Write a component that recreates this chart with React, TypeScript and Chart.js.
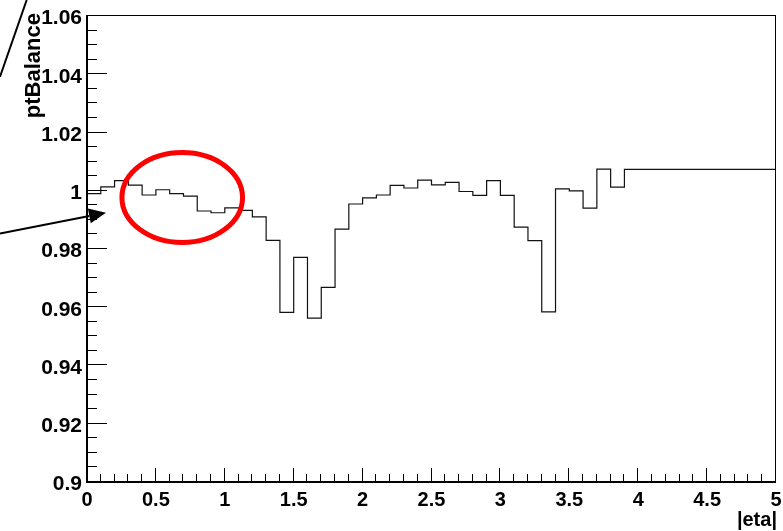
import React, { useEffect, useRef } from 'react';
import { Chart, registerables } from 'chart.js';

Chart.register(...registerables);

// ---- data ----
const etaBinWidth = 0.1;
const ptBalance = [
  0.9987, 1.001, 1.0031, 1.0016, 0.9982, 1.0, 0.9987, 0.9978, 0.9927, 0.9921,
  0.9938, 0.9929, 0.9907, 0.9826, 0.9579, 0.9768, 0.9559, 0.9665, 0.9865, 0.9951,
  0.9972, 0.9982, 1.0015, 1.0006, 1.0033, 1.0017, 1.0025, 0.9994, 0.9981, 1.0031,
  0.9981, 0.9872, 0.9825, 0.9581, 1.0003, 0.9996, 0.9937, 1.0071, 1.0009, 1.007,
  1.007, 1.007, 1.007, 1.007, 1.007, 1.007, 1.007, 1.007, 1.007, 1.007,
];
const xTickLabels = ['0', '0.5', '1', '1.5', '2', '2.5', '3', '3.5', '4', '4.5', '5'];
const yTickLabels = ['0.9', '0.92', '0.94', '0.96', '0.98', '1', '1.02', '1.04', '1.06'];
const xTitle = '|eta|';
const yTitle = 'ptBalance';

// annotation geometry in data coordinates
const circleMark = { cx: 0.691, cy: 0.99734, rx: 0.4376, ry: 0.01545 };
const arrowMark = { x0: -0.6313, y0: 0.98498, x1: 0.1379, y1: 0.99212 };
const slashMark = { x0: -0.6313, y0: 1.03882, x1: -0.4376, y1: 1.06515 };

const FONT = '"Liberation Sans", Arial, Helvetica, sans-serif';

const rootDecor = {
  id: 'rootDecor',
  afterDraw(chart: any) {
    const { ctx, chartArea: a, scales } = chart;
    const x = scales.x;
    const y = scales.y;
    ctx.save();
    ctx.fillStyle = '#000';
    ctx.strokeStyle = '#000';
    // frame
    ctx.fillRect(a.left - 1, a.top, 2, a.bottom - a.top + 2);
    ctx.fillRect(a.left - 1, a.bottom, a.right - a.left + 1, 2);
    ctx.fillRect(a.left, a.top, a.right - a.left, 1);
    ctx.fillRect(a.right - 1, a.top, 1, a.bottom - a.top);
    // y ticks (inside)
    ctx.lineWidth = 1;
    ctx.beginPath();
    for (let k = 0; k <= 32; k++) {
      const v = 0.9 + k * 0.005;
      const py = Math.round(y.getPixelForValue(v)) + 0.5;
      const len = k % 4 === 0 ? 20 : 10;
      ctx.moveTo(a.left, py);
      ctx.lineTo(a.left + len, py);
    }
    for (let k = 0; k <= 50; k++) {
      const v = k * 0.1;
      const px = Math.round(x.getPixelForValue(v)) - 0.5;
      const len = k % 5 === 0 ? 13 : 7;
      ctx.moveTo(px, a.bottom);
      ctx.lineTo(px, a.bottom - len);
    }
    ctx.stroke();

    // titles
    ctx.font = `bold 20px ${FONT}`;
    ctx.textAlign = 'right';
    ctx.textBaseline = 'alphabetic';
    ctx.fillText(xTitle, 777, 526);
    ctx.save();
    ctx.translate(40, 13);
    ctx.rotate(-Math.PI / 2);
    ctx.font = `bold 22px ${FONT}`;
    ctx.textAlign = 'right';
    ctx.fillText(yTitle, 0, 0);
    ctx.restore();

    // red ellipse
    const ecx = x.getPixelForValue(circleMark.cx);
    const ecy = y.getPixelForValue(circleMark.cy);
    const erx = Math.abs(x.getPixelForValue(circleMark.cx + circleMark.rx) - ecx);
    const ery = Math.abs(y.getPixelForValue(circleMark.cy + circleMark.ry) - ecy);
    ctx.beginPath();
    ctx.ellipse(ecx, ecy, erx, ery, 0, 0, Math.PI * 2);
    ctx.strokeStyle = '#ff0000';
    ctx.lineWidth = 5;
    ctx.stroke();

    // arrow
    const ax0 = x.getPixelForValue(arrowMark.x0);
    const ay0 = y.getPixelForValue(arrowMark.y0);
    const ax1 = x.getPixelForValue(arrowMark.x1);
    const ay1 = y.getPixelForValue(arrowMark.y1);
    const ang = Math.atan2(ay1 - ay0, ax1 - ax0);
    const headLen = 17;
    const headHalf = 7.5;
    const bx = ax1 - headLen * Math.cos(ang);
    const by = ay1 - headLen * Math.sin(ang);
    ctx.strokeStyle = '#000';
    ctx.lineWidth = 2;
    ctx.beginPath();
    ctx.moveTo(ax0, ay0);
    ctx.lineTo(bx, by);
    ctx.stroke();
    ctx.beginPath();
    ctx.moveTo(ax1, ay1);
    ctx.lineTo(bx - headHalf * Math.sin(ang), by + headHalf * Math.cos(ang));
    ctx.lineTo(bx + headHalf * Math.sin(ang), by - headHalf * Math.cos(ang));
    ctx.closePath();
    ctx.fillStyle = '#000';
    ctx.fill();

    // slash line top-left
    const sx0 = x.getPixelForValue(slashMark.x0);
    const sy0 = y.getPixelForValue(slashMark.y0);
    const sx1 = x.getPixelForValue(slashMark.x1);
    const sy1 = y.getPixelForValue(slashMark.y1);
    ctx.beginPath();
    ctx.moveTo(sx0, sy0);
    ctx.lineTo(sx1, sy1);
    ctx.lineWidth = 2;
    ctx.stroke();
    ctx.restore();
  },
};

export default function App() {
  const ref = useRef<HTMLCanvasElement>(null);
  useEffect(() => {
    if (!ref.current) return;
    const points = ptBalance.map((v, i) => ({ x: i * etaBinWidth, y: v }));
    points.push({ x: ptBalance.length * etaBinWidth, y: ptBalance[ptBalance.length - 1] });
    const chart = new Chart(ref.current, {
      type: 'line',
      data: {
        datasets: [
          {
            data: points,
            stepped: 'before',
            borderColor: '#111',
            borderWidth: 1.2,
            pointRadius: 0,
            fill: false,
          },
        ],
      },
      options: {
        animation: false,
        responsive: false,
        devicePixelRatio: 1,
        layout: { padding: { top: 15, right: 7, left: 0, bottom: 0 } },
        plugins: { legend: { display: false }, tooltip: { enabled: false } },
        scales: {
          x: {
            type: 'linear',
            min: 0,
            max: 5,
            grid: { display: false, drawTicks: false },
            border: { display: false },
            afterFit: (s: any) => {
              s.height = 50;
              s.paddingLeft = 0;
              s.paddingRight = 0;
            },
            ticks: {
              stepSize: 0.5,
              padding: 7,
              maxRotation: 0,
              autoSkip: false,
              color: '#000',
              font: { family: FONT, size: 20, weight: 'bold' },
              callback: (_v: any, i: number) => xTickLabels[i],
            },
          },
          y: {
            type: 'linear',
            min: 0.9,
            max: 1.06,
            grid: { display: false, drawTicks: false },
            border: { display: false },
            afterFit: (s: any) => {
              s.width = 87;
              s.paddingTop = 0;
              s.paddingBottom = 0;
            },
            ticks: {
              stepSize: 0.02,
              padding: 5,
              labelOffset: 3.5,
              autoSkip: false,
              color: '#000',
              font: { family: FONT, size: 21, weight: 'bold' },
              callback: (_v: any, i: number) => yTickLabels[i],
            },
          },
        },
      },
      plugins: [rootDecor],
    });
    return () => chart.destroy();
  }, []);
  return (
    <div style={{ position: 'absolute', left: 0, top: 0, width: 783, height: 531, background: '#fff' }}>
      <canvas ref={ref} width={783} height={531} style={{ display: 'block' }} />
    </div>
  );
}
